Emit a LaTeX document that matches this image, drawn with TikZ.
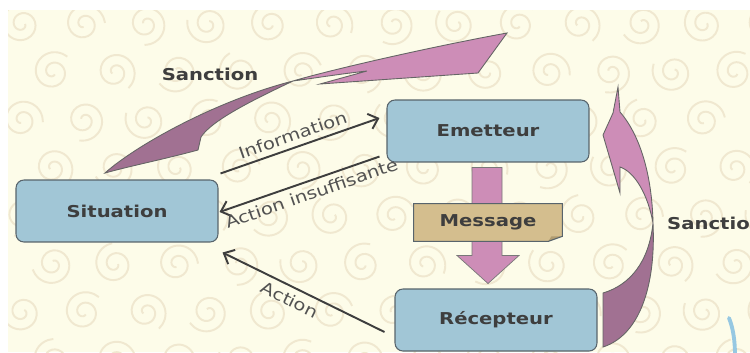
\documentclass[tikz,border=0pt]{standalone}
\usepackage{fontspec}
\setmainfont{DejaVu Sans}[FakeStretch=1.2]
\usepackage{tikz}
\usetikzlibrary{arrows.meta,calc}
\definecolor{paper}{RGB}{253,252,233}
\definecolor{swirlc}{RGB}{240,232,208}
\definecolor{boxblue}{RGB}{161,198,214}
\definecolor{boxedge}{RGB}{88,100,108}
\definecolor{msgtan}{RGB}{212,190,142}
\definecolor{msgfold}{RGB}{176,156,112}
\definecolor{pinkA}{RGB}{205,141,183}
\definecolor{pinkB}{RGB}{161,113,146}
\definecolor{inkgray}{RGB}{62,62,62}
\definecolor{lblgray}{RGB}{82,82,82}
\definecolor{edgeblue}{RGB}{150,200,226}
\tikzset{
  swirl/.style={draw=swirlc, line width=1.1pt},
  stage/.style={draw=boxedge, fill=boxblue, rounded corners=4.5pt, line width=0.6pt,
    minimum width=4.04cm, minimum height=1.24cm, text=inkgray,
    font=\bfseries\fontsize{9.3}{11}\selectfont},
  msgbox/.style={fill=msgtan, minimum width=2.96cm, minimum height=0.74cm, inner sep=0pt,
    text=inkgray, font=\bfseries\fontsize{9.3}{11}\selectfont},
  flowArrow/.style={draw=inkgray, line width=1.1pt, -{Straight Barb[length=5pt,width=9pt]}},
  backArrow/.style={draw=inkgray, line width=1.1pt, {Straight Barb[length=5pt,width=9pt]}-},
  flowLabel/.style={sloped, text=lblgray, inner sep=3pt, font=\fontsize{9.3}{11}\selectfont},
  sancLight/.style={fill=pinkA, draw=inkgray!80, line width=0.5pt},   % upper half of a swoosh
  sancDark/.style={fill=pinkB, draw=inkgray!80, line width=0.5pt},    % lower half of a swoosh
  msgArrow/.style={fill=pinkA, draw=inkgray!70, line width=0.4pt},
  sancLabel/.style={text=inkgray, font=\bfseries\fontsize{9.3}{11}\selectfont}
}
\newcommand{\Swirl}[3]{% #1=x, #2=y, #3=start angle
  \draw[swirl] plot[variable=\t, domain=0:620, samples=40, smooth]
    ({#1+(3+18*\t/620)*cos(\t+#3)}, {#2+(3+18*\t/620)*sin(\t+#3)});
}

\begin{document}
\begin{tikzpicture}[x=0.02cm, y=-0.02cm]
  \useasboundingbox (0,0) rectangle (750,352);
  \clip (0,0) rectangle (750,352);
  \fill[white] (0,0) rectangle (750,352);
  \fill[paper] (8,10) rectangle (750,352);
  % wallpaper
  \begin{scope}
    \clip (8,10) rectangle (750,352);
    \foreach \r in {0,...,7}{%
      \foreach \c in {0,...,12}{%
        \pgfmathsetmacro{\sx}{22+62*\c+31*mod(\r,2)}%
        \pgfmathsetmacro{\sy}{24+48*\r}%
        \pgfmathtruncatemacro{\st}{mod(97*\c+53*\r,360)}%
        \Swirl{\sx}{\sy}{\st}
      }%
    }%
  \end{scope}

  \node[stage] (sit) at (117,211) {Situation};
  \node[stage] (emet) at (488,131) {Emetteur};
  \node[stage] (rec) at (496,320) {Récepteur};

  % sanction swoosh from the situation
  \path[sancDark] (105,173) .. controls (135,146) and (215,101) .. (293,81)
    .. controls (255,99) and (212,120) .. (201,137) -- (198,150)
    .. controls (165,159) and (130,166) .. cycle;
  \path[sancLight] (293,81) .. controls (330,70) and (430,47) .. (507,33)
    -- (478,73) -- (320,84) -- (367,71) .. controls (340,74) and (315,78) .. cycle;
  \node[sancLabel] (sancTop) at (210,74) {Sanction};

  % sanction swoosh from the receiver
  \path[sancLight] (618,87) -- (620,112) .. controls (640,135) and (652,175) .. (653,223)
    .. controls (648,195) and (635,172) .. (620,167) -- (620,193) -- (603,135) -- (613,113) -- cycle;
  \path[sancDark] (653,223) .. controls (656,285) and (640,335) .. (603,347)
    -- (603,293) .. controls (630,285) and (649,262) .. cycle;
  \node[sancLabel, anchor=west] (sancRight) at (661,223) {Sanction};

  \draw[flowArrow] ([shift={(2,-6)}]sit.north east)
    -- node[flowLabel, above, pos=.48] {Information} ([shift={(-7,-13)}]emet.west);
  \draw[backArrow] ([shift={(1,1)}]sit.east)
    -- node[flowLabel, below, pos=.55] {Action insuffisante} ([shift={(-7,-6)}]emet.south west);
  \draw[backArrow] ([shift={(4,10)}]sit.south east)
    -- node[flowLabel, below, pos=.45] {Action} ([shift={(-10,12)}]rec.west);

  % message carried down to the receiver
  \path[msgArrow] ($(emet.south)+(-16,5)$) -- ++(30,0) -- ++(0,88) -- ++(17,0)
    -- ++(-31,28) -- ++(-31,-28) -- ++(15,0) -- cycle;
  \node[msgbox] (msg) at (488,222.5) {Message};
  \fill[paper] ($(msg.south east)+(0,-5)$) -- (msg.south east) -- ($(msg.south east)+(-14,0)$) -- cycle;
  \fill[msgfold] ($(msg.south east)+(-14,0)$) -- ($(msg.south east)+(-11,-5)$) -- ($(msg.south east)+(0,-5)$) -- cycle;
  \draw[boxedge, line width=0.6pt] (msg.north west) -- (msg.north east) -- ($(msg.south east)+(0,-5)$)
    -- ($(msg.south east)+(-14,0)$) -- (msg.south west) -- cycle;

  \draw[edgeblue, line width=2.2pt, line cap=round] (729,318) .. controls (733,328) and (735,340) .. (735,356);
\end{tikzpicture}
\end{document}
